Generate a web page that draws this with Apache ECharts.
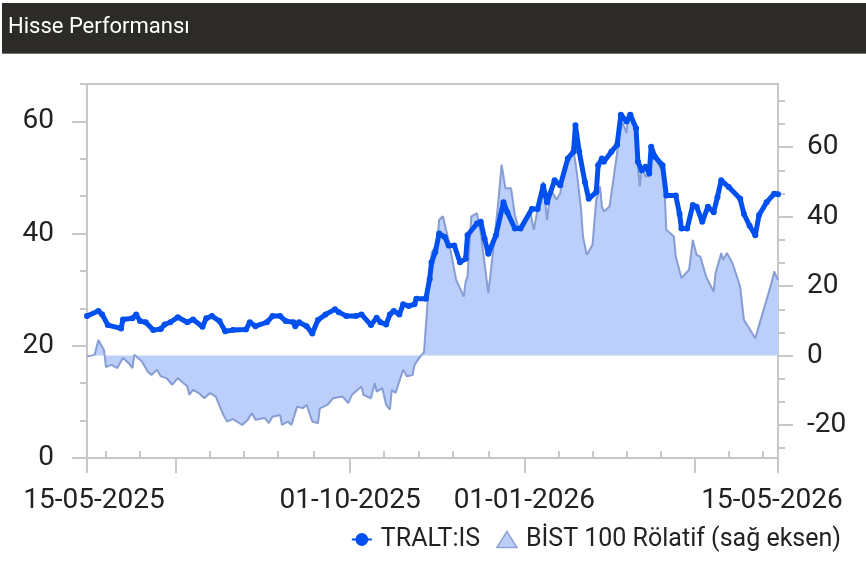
<!DOCTYPE html>
<html><head><meta charset="utf-8">
<script src="https://cdn.jsdelivr.net/npm/echarts@6.0.0/dist/echarts.min.js"></script>
<style>html,body{margin:0;padding:0;background:#fff}#c{width:866px;height:562px}</style>
</head><body><div id="c"></div>
<script>
const tralDates = ['2025-05-15','2025-05-21','2025-05-23','2025-05-26','2025-06-02','2025-06-03','2025-06-08','2025-06-10','2025-06-12','2025-06-15','2025-06-19','2025-06-23','2025-06-25','2025-06-28','2025-07-02','2025-07-07','2025-07-10','2025-07-15','2025-07-17','2025-07-20','2025-07-24','2025-07-27','2025-07-31','2025-08-07','2025-08-09','2025-08-12','2025-08-18','2025-08-21','2025-08-25','2025-08-28','2025-09-01','2025-09-02','2025-09-04','2025-09-08','2025-09-11','2025-09-14','2025-09-18','2025-09-23','2025-09-25','2025-09-29','2025-10-04','2025-10-07','2025-10-12','2025-10-15','2025-10-17','2025-10-20','2025-10-22','2025-10-24','2025-10-27','2025-10-29','2025-11-01','2025-11-04','2025-11-05','2025-11-10','2025-11-12','2025-11-13','2025-11-15','2025-11-17','2025-11-20','2025-11-22','2025-11-25','2025-11-28','2025-12-01','2025-12-02','2025-12-07','2025-12-09','2025-12-11','2025-12-13','2025-12-17','2025-12-21','2025-12-23','2025-12-27','2025-12-30','2026-01-05','2026-01-08','2026-01-11','2026-01-13','2026-01-17','2026-01-20','2026-01-24','2026-01-27','2026-01-28','2026-01-30','2026-02-02','2026-02-04','2026-02-08','2026-02-09','2026-02-11','2026-02-12','2026-02-16','2026-02-19','2026-02-21','2026-02-24','2026-02-26','2026-03-01','2026-03-02','2026-03-04','2026-03-06','2026-03-08','2026-03-09','2026-03-11','2026-03-15','2026-03-17','2026-03-22','2026-03-24','2026-03-25','2026-03-28','2026-03-31','2026-04-02','2026-04-05','2026-04-08','2026-04-11','2026-04-13','2026-04-15','2026-04-19','2026-04-25','2026-04-27','2026-04-30','2026-05-03','2026-05-05','2026-05-09','2026-05-13','2026-05-15'];
const tralValues = [25.3,26.2,25.6,23.7,23.1,24.7,24.9,25.6,24.4,24.2,22.8,23.0,23.8,24.2,25.1,24.2,24.7,23.4,24.9,25.3,24.4,22.6,22.8,22.9,24.2,23.5,24.2,25.3,25.3,24.4,24.2,23.5,24.2,23.5,22.2,24.6,25.6,26.5,26.0,25.3,25.3,25.6,23.7,25.0,24.2,23.8,25.6,26.2,25.6,27.4,27.1,27.4,28.4,28.4,31.9,34.9,36.7,40.0,39.4,37.9,37.9,34.9,35.5,39.7,41.8,42.1,39.1,36.4,39.7,45.6,43.8,40.9,40.9,44.4,44.4,48.5,45.6,49.5,48.6,53.4,54.6,59.3,54.6,49.2,46.2,47.4,52.2,53.4,52.8,54.6,55.8,61.2,60.0,61.2,58.8,52.8,51.3,51.9,50.7,55.5,53.7,52.2,46.8,46.8,43.5,40.9,40.9,45.1,44.8,42.1,44.8,43.8,46.5,49.5,48.3,46.2,43.5,41.4,39.7,43.3,45.6,47.1,47.0];
const bistDates = ['2025-05-15','2025-05-19','2025-05-21','2025-05-24','2025-05-25','2025-05-28','2025-05-31','2025-06-03','2025-06-06','2025-06-08','2025-06-09','2025-06-13','2025-06-16','2025-06-18','2025-06-21','2025-06-23','2025-06-26','2025-06-29','2025-07-02','2025-07-07','2025-07-08','2025-07-10','2025-07-13','2025-07-16','2025-07-19','2025-07-22','2025-07-26','2025-07-28','2025-07-31','2025-08-05','2025-08-08','2025-08-10','2025-08-12','2025-08-17','2025-08-19','2025-08-21','2025-08-25','2025-08-26','2025-08-29','2025-08-31','2025-09-03','2025-09-06','2025-09-08','2025-09-11','2025-09-14','2025-09-15','2025-09-16','2025-09-19','2025-09-22','2025-09-27','2025-09-30','2025-10-02','2025-10-07','2025-10-08','2025-10-12','2025-10-14','2025-10-15','2025-10-18','2025-10-20','2025-10-22','2025-10-23','2025-10-25','2025-10-29','2025-10-31','2025-11-03','2025-11-04','2025-11-07','2025-11-09','2025-11-11','2025-11-13','2025-11-16','2025-11-17','2025-11-19','2025-11-22','2025-11-26','2025-11-30','2025-12-01','2025-12-02','2025-12-04','2025-12-07','2025-12-08','2025-12-09','2025-12-11','2025-12-13','2025-12-15','2025-12-18','2025-12-20','2025-12-22','2025-12-25','2025-12-27','2025-12-29','2026-01-01','2026-01-04','2026-01-06','2026-01-08','2026-01-11','2026-01-13','2026-01-15','2026-01-18','2026-01-20','2026-01-22','2026-01-25','2026-01-27','2026-01-29','2026-01-31','2026-02-01','2026-02-03','2026-02-04','2026-02-06','2026-02-08','2026-02-10','2026-02-11','2026-02-12','2026-02-15','2026-02-17','2026-02-19','2026-02-20','2026-02-22','2026-02-24','2026-02-25','2026-02-27','2026-03-01','2026-03-02','2026-03-03','2026-03-04','2026-03-06','2026-03-08','2026-03-09','2026-03-12','2026-03-15','2026-03-16','2026-03-17','2026-03-19','2026-03-21','2026-03-22','2026-03-25','2026-03-29','2026-03-31','2026-04-02','2026-04-04','2026-04-07','2026-04-11','2026-04-12','2026-04-15','2026-04-16','2026-04-18','2026-04-21','2026-04-25','2026-04-27','2026-05-03','2026-05-04','2026-05-05','2026-05-09','2026-05-12','2026-05-13','2026-05-15'];
const bistValues = [-0.3,0.2,4.5,1.6,-3.3,-2.7,-3.6,-0.7,-2.2,-3.6,0.2,-1.7,-4.6,-5.6,-4.1,-6.0,-6.5,-8.4,-6.5,-8.9,-11.3,-9.9,-10.8,-12.3,-10.8,-11.8,-17.1,-19.0,-18.3,-20.0,-18.5,-16.6,-18.5,-18.0,-19.5,-17.6,-17.1,-20.0,-19.0,-20.0,-14.7,-15.2,-14.2,-19.0,-19.5,-15.2,-15.6,-14.2,-12.3,-11.8,-13.7,-11.3,-8.9,-11.3,-12.3,-8.0,-10.4,-9.4,-14.2,-15.6,-9.9,-10.8,-4.1,-6.0,-5.6,-2.7,-0.3,1.0,16.1,29.5,32.4,39.1,40.1,33.3,21.8,17.0,21.3,22.8,40.1,41.0,40.5,35.3,26.6,18.0,27.6,42.9,55.0,48.2,48.2,40.5,36.7,37.2,42.0,36.2,42.0,50.1,39.1,47.8,44.9,46.8,54.5,56.9,59.3,51.6,42.0,34.3,29.0,30.0,31.9,44.9,48.7,42.9,41.5,42.9,50.6,58.3,64.1,67.0,64.1,69.9,67.9,66.0,54.5,48.7,54.5,51.6,51.6,58.3,55.9,53.0,48.7,36.2,35.3,34.3,28.5,22.3,24.7,33.3,29.0,28.5,22.8,18.4,23.7,29.5,27.6,29.5,26.6,19.9,10.3,5.0,6.9,7.4,16.1,21.8,24.2,21.8];
const xMajorTicks = ['2025-05-15','2025-07-01','2025-10-01','2026-01-01','2026-04-01','2026-05-15'];
const xLabelDates = ['2025-05-15','2025-10-01','2026-01-01','2026-05-15'];
const xMinorTicks = ['2025-05-25','2025-06-12','2025-07-19','2025-08-06','2025-08-24','2025-09-12','2025-10-19','2025-11-06','2025-11-24','2025-12-13','2026-01-19','2026-02-06','2026-02-24','2026-03-14','2026-04-19','2026-05-07'];
const leftLabels = [0, 20, 40, 60];
const leftMinor = [6.67, 13.33, 26.67, 33.33, 46.67, 53.33, 66.67];
const rightLabels = [-20, 0, 20, 40, 60];
const rightMinor = [-26.67, -13.33, -6.67, 6.67, 13.33, 26.67, 33.33, 46.67, 53.33, 66.67, 73.33];

function ts(s){const p=s.split('-');return Date.UTC(+p[0],+p[1]-1,+p[2]);}
function pad(n){return (n<10?'0':'')+n;}
function fmtDate(v){const d=new Date(v);return pad(d.getUTCDate())+'-'+pad(d.getUTCMonth()+1)+'-'+d.getUTCFullYear();}

const FONT='Roboto';
const gray={color:'#c8c8c8',width:2};
const xMin=ts('2025-05-15'), xMax=ts('2026-05-15');
const lblStyle={fontSize:28,fontFamily:FONT,color:'#222'};

const chart=echarts.init(document.getElementById('c'),null,{renderer:'canvas'});
chart.setOption({
  animation:false,
  backgroundColor:'#ffffff',
  title:{text:'Hisse Performansı',left:8,top:16,padding:0,z:10,textStyle:{color:'#ffffff',fontSize:22,fontWeight:'normal',fontFamily:FONT}},
  graphic:[
    {type:'rect',shape:{x:2,y:3,width:864,height:50},style:{fill:'#2d2b27'},z:0},
    {type:'line',shape:{x1:2,y1:53.5,x2:866,y2:53.5},style:{stroke:'#707070',lineWidth:1},z:0}
  ],
  grid:{left:87,right:88,top:84,bottom:104,show:true,borderColor:'#c8c8c8',borderWidth:2,containLabel:false,outerBoundsMode:'none'},
  legend:{right:20,top:522,itemGap:16,itemWidth:20,itemHeight:16,
    textStyle:{fontSize:25,fontFamily:FONT,color:'#222',padding:[0,0,0,4]},
    data:[{name:'TRALT:IS'},{name:'BİST 100 Rölatif (sağ eksen)',icon:'triangle',itemStyle:{color:'#bccffa',borderColor:'#8ea3d6',borderWidth:1.5}}]},
  xAxis:[
    {type:'value',min:xMin,max:xMax,
     axisLine:{show:true,lineStyle:gray},
     axisTick:{show:true,customValues:xMajorTicks.map(ts),length:15,lineStyle:gray},
     axisLabel:{show:true,customValues:xLabelDates.map(ts),
       formatter:function(v){const s=fmtDate(v);if(v===xMin)return '{a|'+s+'}';if(v===xMax)return '{b|'+s+'}';return s;},
       rich:{a:Object.assign({padding:[0,0,0,14]},lblStyle),b:Object.assign({padding:[0,12,0,0]},lblStyle)},
       fontSize:28,fontFamily:FONT,color:'#222',margin:29},
     splitLine:{show:false}},
    {type:'value',min:xMin,max:xMax,
     axisLine:{show:false},
     axisTick:{show:true,customValues:xMinorTicks.map(ts),length:7,lineStyle:gray},
     axisLabel:{show:false},splitLine:{show:false}}
  ],
  yAxis:[
    {type:'value',position:'left',min:0,max:66.67,
     axisLine:{show:true,lineStyle:gray},
     axisTick:{show:true,customValues:leftLabels,length:15,lineStyle:gray},
     axisLabel:{show:true,customValues:leftLabels,fontSize:28,fontFamily:FONT,color:'#222',margin:33},
     splitLine:{show:false}},
    {type:'value',position:'left',min:0,max:66.67,
     axisLine:{show:false},
     axisTick:{show:true,customValues:leftMinor,length:7,lineStyle:gray},
     axisLabel:{show:false},splitLine:{show:false}},
    {type:'value',position:'right',min:-29.5,max:78.2,
     axisLine:{show:true,lineStyle:gray},
     axisTick:{show:true,customValues:rightLabels,length:15,lineStyle:gray},
     axisLabel:{show:true,customValues:rightLabels,fontSize:28,fontFamily:FONT,color:'#222',margin:29},
     splitLine:{show:false}},
    {type:'value',position:'right',min:-29.5,max:78.2,
     axisLine:{show:false},
     axisTick:{show:true,customValues:rightMinor,length:7,lineStyle:gray},
     axisLabel:{show:false},splitLine:{show:false}}
  ],
  series:[
    {name:'TRALT:IS',type:'line',xAxisIndex:0,yAxisIndex:0,
     data:tralDates.map((d,i)=>[ts(d),tralValues[i]]),
     symbol:'circle',symbolSize:6,showSymbol:true,showAllSymbol:true,
     lineStyle:{color:'#0050f0',width:5},itemStyle:{color:'#0050f0'},z:3},
    {name:'BİST 100 Rölatif (sağ eksen)',type:'line',xAxisIndex:0,yAxisIndex:2,
     data:bistDates.map((d,i)=>[ts(d),bistValues[i]]),
     symbol:'none',
     lineStyle:{color:'rgba(120,145,205,0.85)',width:2},
     areaStyle:{color:'#bccffa',opacity:1,origin:0},
     itemStyle:{color:'#bccffa',borderColor:'#8ea3d6'},z:1}
  ]
});
</script></body></html>
